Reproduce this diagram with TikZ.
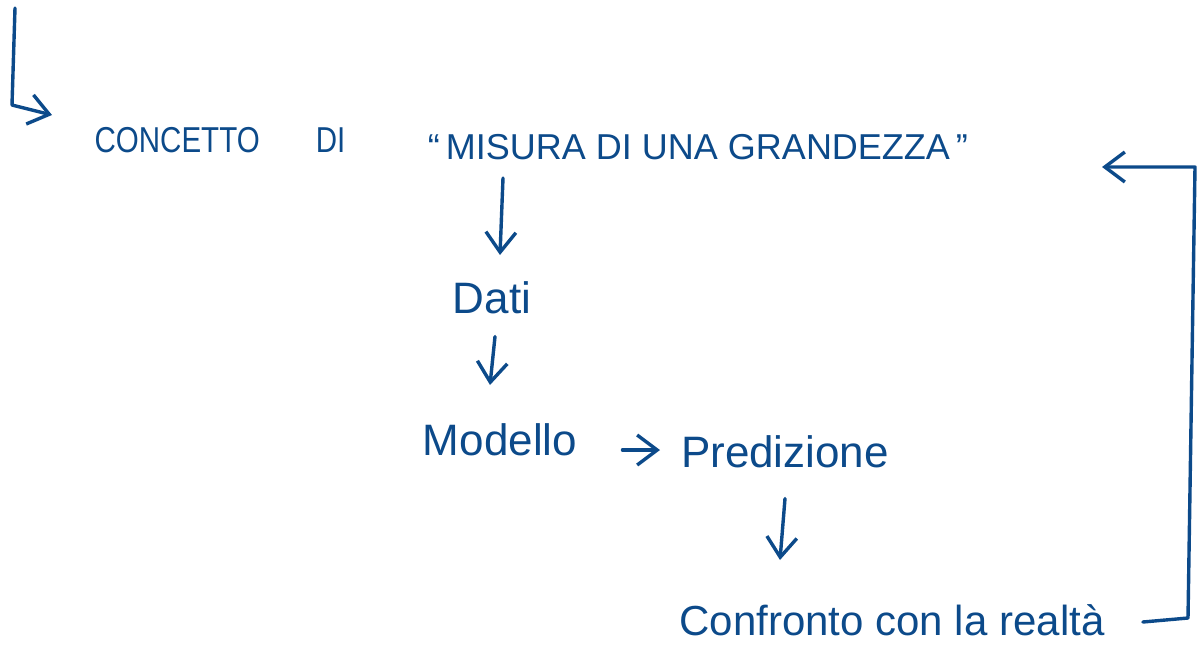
\documentclass[tikz,border=0pt]{standalone}
\usepackage{fontspec}
\setmainfont{Liberation Sans}
\usetikzlibrary{arrows.meta}
\definecolor{ink}{RGB}{12,74,138}
\tikzset{
  txt/.style={text=ink, inner sep=0pt, anchor=center},
  caps/.style={txt, font=\fontsize{18}{21}\selectfont},
  lower/.style={txt, font=\fontsize{22}{26}\selectfont},
  conn/.style={draw=ink, line width=1.7pt, line cap=round, line join=round,
    -{Straight Barb[length=10pt,width=15pt,line width=1.7pt]}}
}
\begin{document}
\begin{tikzpicture}[x=0.5pt,y=-0.5pt]
\useasboundingbox (0,0) rectangle (1199,659);
% nodes
\node[caps] (conc) at (220,140) {\scalebox{0.82}[1]{CONCETTO\hspace{1.9em}DI}};
\node[caps] (mis) at (698,147) {“\,MISURA DI UNA GRANDEZZA\,”};
\node[lower] (dati) at (492,298) {Dati};
\node[lower] (mod) at (500,440) {Modello};
\node[lower] (pred) at (785,452) {Predizione};
\node[lower, font=\fontsize{21}{25}\selectfont] (conf) at (892,620) {Confronto con la realtà};
% helper coordinates
\coordinate (ltop) at (15,8);
\coordinate (lcorner) at (12,105);
\coordinate (rb1) at (1188,618);
\coordinate (rb2) at (1195,167);
\coordinate (rtip) at (1102,167);
% connectors
\draw[conn] (ltop) -- (lcorner) -- (52,115);
\draw[conn] (503,178) -- (500,255);
\draw[conn] (dati.south) ++(3,22) -- (490,385);
\draw[conn] (mod.east) ++(45,10) -- (660,450);
\draw[conn] (pred.south) ++(0,30) -- (780,560);
\draw[conn] (conf.east) ++(38,2) -- (rb1) -- (rb2) -- (rtip);
\end{tikzpicture}
\end{document}
